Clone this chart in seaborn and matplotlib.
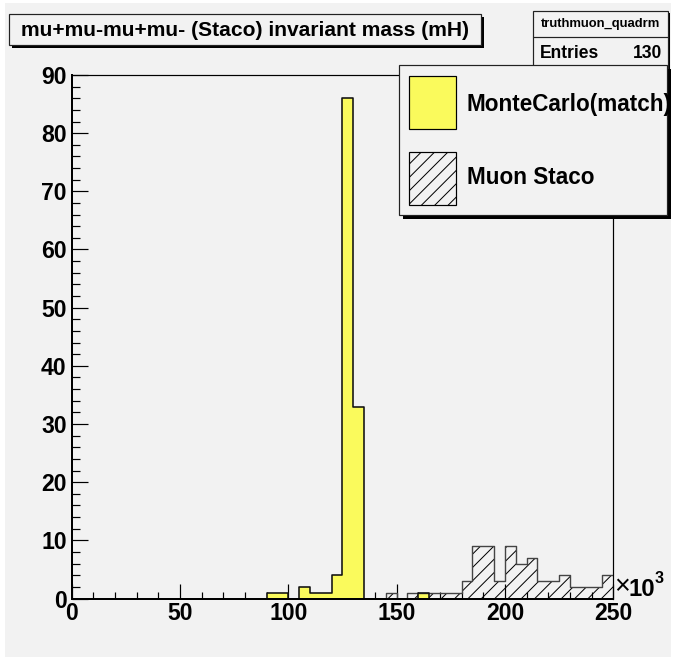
import matplotlib
matplotlib.use("Agg")
import matplotlib.pyplot as plt
from matplotlib.patches import Rectangle
from matplotlib.ticker import MultipleLocator
import pandas as pd
import seaborn as sns

# ---- data: four-muon invariant mass, 5-unit bins from 0 to 250 (x 10^3) ----
bin_edges = list(range(0, 255, 5))

mc_match_counts = [
    0, 0, 0, 0, 0, 0, 0, 0, 0, 0,    # 0 - 50
    0, 0, 0, 0, 0, 0, 0, 0, 1, 1,    # 50 - 100
    0, 2, 1, 1, 4, 86, 33, 0, 0, 0,  # 100 - 150
    0, 0, 1, 0, 0, 0, 0, 0, 0, 0,    # 150 - 200
    0, 0, 0, 0, 0, 0, 0, 0, 0, 0,    # 200 - 250
]

staco_counts = [
    0, 0, 0, 0, 0, 0, 0, 0, 0, 0,    # 0 - 50
    0, 0, 0, 0, 0, 0, 0, 0, 0, 0,    # 50 - 100
    0, 0, 0, 0, 0, 0, 0, 0, 0, 1,    # 100 - 150
    0, 1, 1, 1, 1, 1, 3, 9, 9, 3,    # 150 - 200
    9, 6, 7, 3, 3, 4, 2, 2, 2, 4,    # 200 - 250
]

title_text = "mu+mu-mu+mu- (Staco) invariant mass (mH)"
hist_name = "truthmuon_quadrm"
entries = 130
legend_labels = ["MonteCarlo(match)", "Muon Staco"]
x_ticks = [0, 50, 100, 150, 200, 250]
y_ticks = [0, 10, 20, 30, 40, 50, 60, 70, 80, 90]

# ---- style ----
BG = "#f2f2f2"
YELLOW = "#fafa5c"
W, H, DPI = 673, 659, 120

sns.set_style("white")
plt.rcParams["font.family"] = ["Liberation Sans", "DejaVu Sans"]
plt.rcParams["font.weight"] = "bold"
plt.rcParams["text.color"] = "black"
plt.rcParams["xtick.color"] = "black"
plt.rcParams["ytick.color"] = "black"
plt.rcParams["hatch.linewidth"] = 0.6


def pt(px):
    return px * 72.0 / DPI


def fx(px):
    return px / W


def fy(py):
    return 1.0 - py / H


fig = plt.figure(figsize=(W / DPI, H / DPI), dpi=DPI, facecolor="white")
# grey canvas inside a thin white margin
fig.add_artist(Rectangle((fx(5), fy(657)), fx(671 - 5), (657 - 3) / H,
                         transform=fig.transFigure, facecolor=BG, edgecolor="none",
                         zorder=0))

ax = fig.add_axes([fx(71.7), fy(598.5), fx(613.2) - fx(71.7), fy(75) - fy(598.5)])
ax.set_facecolor(BG)

centers = [e + 2.5 for e in bin_edges[:-1]]
df = pd.DataFrame({"mass": centers, "mc": mc_match_counts, "staco": staco_counts})

# reconstructed (hatched) histogram
sns.histplot(data=df, x="mass", weights="staco", bins=bin_edges, element="step",
             fill=True, alpha=1, color="black", facecolor="none", edgecolor="black",
             linewidth=0, hatch="///", ax=ax)
sns.histplot(data=df, x="mass", weights="staco", bins=bin_edges, element="step",
             fill=False, color="#444444", linewidth=pt(1.4), ax=ax)

# matched Monte Carlo histogram
sns.histplot(data=df, x="mass", weights="mc", bins=bin_edges, element="step",
             fill=True, alpha=1, color=YELLOW, facecolor=YELLOW, edgecolor="none",
             linewidth=0, ax=ax)
sns.histplot(data=df, x="mass", weights="mc", bins=bin_edges, element="step",
             fill=False, color="#111111", linewidth=pt(1.6), ax=ax)

ax.set_xlim(0, 250)
ax.set_ylim(0, 90)
ax.set_xlabel("")
ax.set_ylabel("")
ax.set_xticks(x_ticks)
ax.set_yticks(y_ticks)
ax.xaxis.set_minor_locator(MultipleLocator(10))
ax.yaxis.set_minor_locator(MultipleLocator(2))
ax.tick_params(axis="both", which="both", direction="in", bottom=True, left=True,
               top=False, right=False, width=pt(1.2), color="black",
               labelcolor="black")
ax.tick_params(axis="x", which="major", length=pt(15), labelsize=pt(23), pad=pt(3.5))
ax.tick_params(axis="x", which="minor", length=pt(7.5))
ax.tick_params(axis="y", which="major", length=pt(16), labelsize=pt(23), pad=pt(5))
ax.tick_params(axis="y", which="minor", length=pt(8))
for lab in ax.get_xticklabels() + ax.get_yticklabels():
    lab.set_fontweight("bold")

for side in ["left", "bottom"]:
    ax.spines[side].set_linewidth(pt(2))
    ax.spines[side].set_color("black")
for side in ["top", "right"]:
    ax.spines[side].set_linewidth(pt(1.2))
    ax.spines[side].set_color("black")

# axis multiplier
fig.text(fx(614), fy(594), "\u00d7", fontsize=pt(27), fontweight="normal",
         va="baseline", ha="left")
fig.text(fx(629), fy(596), "10", fontsize=pt(24), fontweight="bold",
         va="baseline", ha="left")
fig.text(fx(655), fy(583), "3", fontsize=pt(16), fontweight="bold",
         va="baseline", ha="left")


def pave(x0, y0, x1, y1, shadow=3, z=10):
    """Framed box with a drop shadow, in pixel coordinates (origin top-left)."""
    fig.add_artist(Rectangle((fx(x0 + shadow), fy(y1 + shadow)), fx(x1 - x0), (y1 - y0) / H,
                             transform=fig.transFigure, facecolor="black",
                             edgecolor="none", zorder=z))
    fig.add_artist(Rectangle((fx(x0), fy(y1)), fx(x1 - x0), (y1 - y0) / H,
                             transform=fig.transFigure, facecolor=BG,
                             edgecolor="#222222", linewidth=pt(1.2), zorder=z + 1))


# title box
pave(9, 14, 481, 45, shadow=3)
fig.text(fx(245), fy(30), title_text, fontsize=pt(21), fontweight="bold",
         ha="center", va="center", zorder=20)

# statistics box
pave(533, 11, 668, 68, shadow=2)
fig.add_artist(plt.Line2D([fx(533), fx(668)], [fy(37), fy(37)], transform=fig.transFigure,
                          color="#222222", linewidth=pt(1.2), zorder=15))
fig.text(fx(600.5), fy(24), hist_name, fontsize=pt(13), fontweight="bold",
         ha="center", va="center", zorder=20)
fig.text(fx(540), fy(53), "Entries", fontsize=pt(17.5), fontweight="bold",
         ha="left", va="center", zorder=20)
fig.text(fx(662), fy(53), str(entries), fontsize=pt(17.5), fontweight="bold",
         ha="right", va="center", zorder=20)

# legend
pave(399, 65, 667, 215, shadow=4, z=12)
fig.add_artist(Rectangle((fx(409), fy(129)), fx(47), 53 / H, transform=fig.transFigure,
                         facecolor=YELLOW, edgecolor="black", linewidth=pt(1.2), zorder=16))
fig.add_artist(Rectangle((fx(409), fy(205)), fx(47), 53 / H, transform=fig.transFigure,
                         facecolor=BG, edgecolor="black", hatch="///",
                         linewidth=pt(1.2), zorder=16))
fig.text(fx(467), fy(104), legend_labels[0], fontsize=pt(22.5), fontweight="bold",
         ha="left", va="center", zorder=17)
fig.text(fx(467), fy(178), legend_labels[1], fontsize=pt(22.5), fontweight="bold",
         ha="left", va="center", zorder=17)

fig.savefig("out.png", dpi=DPI, facecolor="white")
